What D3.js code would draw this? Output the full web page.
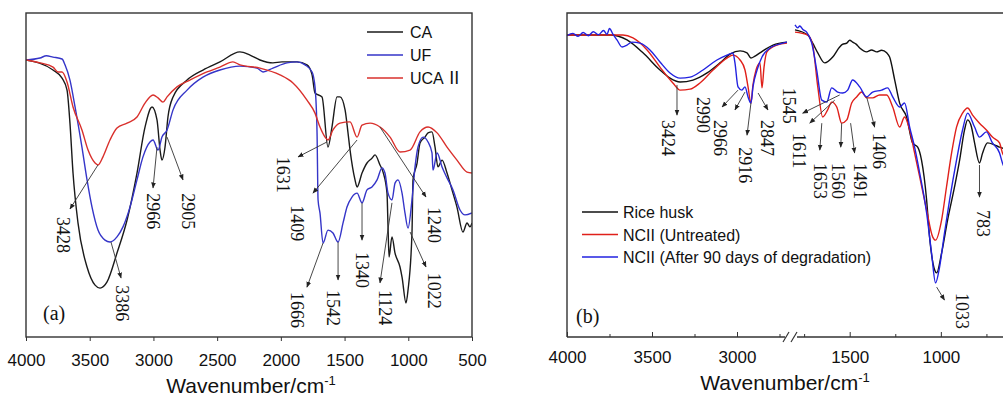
<!DOCTYPE html>
<html>
<head>
<meta charset="utf-8">
<script src="https://cdn.jsdelivr.net/npm/d3@7"></script>
<style>
  body { margin: 0; background: #fff; }
  svg { display: block; font-family: "Liberation Sans", Arial, sans-serif; }
  .tick text { font-size: 17px; fill: #111; }
  .peak { font-family: "Liberation Serif", "Times New Roman", serif; font-size: 18px; fill: #111; }
</style>
</head>
<body>
<svg id="chart" width="1003" height="397"></svg>
<script>
// ---- panel (a): wavenumber, transmittance (arb. %) ----
const caA = [[4000,85.5],[3788,82.4],[3717,79.9],[3678,76.2],[3655,66.0],[3631,50.6],[3592,35.2],[3521,21.6],[3458,16.0],[3419,15.1],[3364,17.0],[3286,25.9],[3207,36.1],[3129,50.6],[3066,64.8],[3011,71.0],[2972,67.0],[2948,57.7],[2933,54.6],[2909,58.6],[2886,67.9],[2846,74.1],[2736,79.3],[2611,82.4],[2478,84.9],[2321,88.0],[2242,87.0],[2164,85.5],[2062,84.6],[1991,84.9],[1873,84.9],[1795,84.0],[1755,80.9],[1732,75.3],[1677,74.1],[1630,58.6],[1599,64.8],[1559,74.1],[1536,74.1],[1496,70.1],[1473,63.0],[1457,57.7],[1418,48.5],[1402,46.3],[1363,50.6],[1324,53.7],[1285,55.2],[1261,56.2],[1222,53.1],[1198,50.9],[1167,44.4],[1159,34.0],[1151,24.7],[1128,30.9],[1104,25.9],[1065,21.6],[1049,18.5],[1018,10.5],[1002,14.5],[971,32.1],[963,48.5],[931,53.7],[908,59.9],[869,61.7],[845,63.0],[814,63.3],[790,58.6],[767,52.5],[735,54.6],[696,50.6],[657,45.4],[618,40.1],[571,32.4],[539,35.2],[516,34.0],[500,35.2]];
const ufA = [[4000,85.5],[3890,86.1],[3840,86.8],[3788,86.4],[3717,85.8],[3694,84.0],[3655,79.3],[3615,71.0],[3561,58.6],[3521,48.5],[3482,40.1],[3435,33.0],[3380,29.9],[3341,29.3],[3286,30.9],[3239,34.0],[3184,40.1],[3129,48.5],[3082,55.6],[3027,60.2],[3003,60.8],[2964,57.7],[2933,61.7],[2893,63.9],[2846,70.1],[2736,76.2],[2611,80.2],[2478,82.4],[2321,83.6],[2187,83.0],[2140,81.8],[2062,83.0],[1952,84.6],[1873,84.9],[1810,84.0],[1755,81.8],[1732,77.2],[1716,63.0],[1708,42.3],[1693,38.3],[1669,29.0],[1630,33.0],[1591,32.1],[1551,29.3],[1512,35.2],[1481,40.1],[1442,43.2],[1402,44.4],[1363,41.4],[1324,45.4],[1285,46.3],[1245,48.5],[1206,52.2],[1183,50.6],[1159,44.4],[1128,42.3],[1104,47.5],[1081,48.5],[1049,44.4],[1026,38.3],[1002,33.6],[971,42.3],[947,52.5],[924,58.6],[884,61.7],[845,60.2],[814,56.8],[806,51.5],[774,56.8],[735,52.5],[696,49.1],[649,45.4],[594,39.2],[555,37.7],[500,38.3]];
const ucaA = [[4000,85.5],[3890,84.6],[3788,83.3],[3749,81.8],[3717,81.8],[3678,78.7],[3631,71.0],[3561,63.9],[3513,57.7],[3458,53.7],[3435,53.1],[3396,55.6],[3341,60.8],[3286,64.5],[3207,66.0],[3129,67.9],[3066,72.2],[3003,74.7],[2964,73.8],[2925,72.5],[2893,74.1],[2815,77.2],[2713,79.3],[2580,81.8],[2478,83.3],[2376,84.9],[2321,84.0],[2164,83.0],[2007,80.9],[1905,78.4],[1795,73.1],[1732,69.1],[1693,64.8],[1653,61.7],[1630,60.8],[1591,63.9],[1536,66.0],[1457,66.4],[1402,61.7],[1363,65.4],[1300,66.0],[1222,64.8],[1143,61.7],[1065,57.1],[986,57.7],[908,63.3],[845,64.8],[774,63.0],[696,58.6],[618,54.6],[539,50.9],[500,50.6]];

const seriesA = [
  { name: 'CA', data: caA, color: '#1a1a1a' },
  { name: 'UF', data: ufA, color: '#3535c8' },
  { name: 'UCA', data: ucaA, color: '#d9302c' }
];
const ticksA = [4000, 3500, 3000, 2500, 2000, 1500, 1000, 500];

// peak labels: text, curve point, arrow end, label top
const peaksA = [
  { t: '3428', tip: [3435,53.1], tail: [3655,39.5], at: [3710,37.0] },
  { t: '3386', tip: [3333,29.3], tail: [3254,18.2], at: [3247,16.0] },
  { t: '2966', tip: [2972,58.6], tail: [3003,46.0], at: [3003,44.4] },
  { t: '2905', tip: [2893,61.7], tail: [2768,48.5], at: [2729,44.4] },
  { t: '1631', tip: [1638,60.2], tail: [1865,55.6], at: [1983,55.6] },
  { t: '1409', tip: [1402,60.8], tail: [1748,44.4], at: [1873,40.7] },
  { t: '1666', tip: [1669,29.0], tail: [1795,15.4], at: [1873,13.9] },
  { t: '1542', tip: [1551,29.3], tail: [1551,17.6], at: [1591,14.5] },
  { t: '1340', tip: [1363,41.4], tail: [1363,29.9], at: [1363,26.2] },
  { t: '1124', tip: [1128,41.4], tail: [1222,16.7], at: [1183,14.5] },
  { t: '1240', tip: [1222,64.8], tail: [861,43.2], at: [798,40.1] },
  { t: '1022', tip: [986,32.4], tail: [861,21.6], at: [798,19.8] }
];

// ---- panel (b): broken axis 4000-2700 | 1800-500 ----
const huskB1 = [[4000,93.2],[3747,93.2],[3647,91.7],[3553,87.7],[3453,82.4],[3394,79.9],[3335,78.7],[3259,79.3],[3176,81.5],[3100,84.6],[3041,87.3],[2982,88.3],[2941,87.7],[2918,86.1],[2894,86.7],[2865,87.7],[2788,90.1],[2706,91.0]];
const huskB2 = [[1800,94.8],[1730,93.2],[1703,90.7],[1675,87.7],[1637,84.6],[1593,86.4],[1555,89.5],[1540,90.3],[1516,90.7],[1500,91.6],[1484,91.0],[1465,90.4],[1445,89.2],[1407,88.0],[1380,88.6],[1352,88.0],[1325,88.5],[1297,87.7],[1281,86.4],[1253,79.3],[1226,72.2],[1188,67.9],[1155,59.9],[1127,58.6],[1106,54.6],[1078,42.3],[1062,30.9],[1034,20.7],[1023,19.8],[996,25.9],[963,36.1],[925,46.3],[897,54.6],[870,63.9],[853,67.0],[832,64.8],[815,59.9],[788,53.7],[771,56.8],[744,59.9],[706,59.3],[678,58.6],[640,58.0]];
const untreatedB1 = [[4000,93.2],[3747,93.2],[3671,93.2],[3612,92.3],[3529,88.6],[3453,83.3],[3377,78.4],[3335,76.2],[3276,76.5],[3218,78.4],[3141,82.4],[3059,86.1],[3024,87.0],[2982,85.5],[2953,82.4],[2935,77.2],[2918,72.2],[2906,77.8],[2888,82.4],[2865,84.6],[2853,76.9],[2841,83.3],[2824,88.0],[2765,90.1],[2706,90.7]];
const untreatedB2 = [[1800,94.1],[1730,93.2],[1703,90.1],[1675,77.2],[1648,67.9],[1621,70.1],[1599,72.5],[1571,71.0],[1544,66.0],[1516,67.0],[1489,72.2],[1462,74.1],[1434,75.6],[1407,73.8],[1374,73.8],[1336,74.7],[1297,74.7],[1264,71.0],[1226,64.8],[1199,67.9],[1171,63.9],[1144,56.8],[1116,49.4],[1078,39.2],[1045,30.9],[1029,29.9],[996,36.1],[969,46.3],[941,56.8],[914,64.8],[881,69.1],[853,70.7],[826,68.5],[788,66.0],[750,63.9],[717,61.7],[678,59.9],[662,56.8],[640,55.0]];
const degradedB1 = [[4000,93.0],[3965,93.7],[3935,92.8],[3905,94.0],[3875,93.0],[3845,94.2],[3815,93.3],[3785,94.6],[3765,93.4],[3750,95.2],[3730,93.5],[3706,91.7],[3676,89.5],[3647,90.1],[3618,91.0],[3571,90.7],[3512,88.6],[3453,84.9],[3394,81.5],[3335,79.9],[3276,80.2],[3200,82.4],[3118,85.5],[3059,87.0],[3024,87.7],[3012,84.6],[2994,77.2],[2971,76.2],[2953,77.2],[2935,74.1],[2918,72.2],[2906,77.2],[2882,82.4],[2853,86.4],[2806,89.2],[2729,90.7],[2706,91.0]];
const degradedB2 = [[1800,96.3],[1785,95.4],[1774,96.0],[1755,94.8],[1736,94.1],[1708,90.7],[1681,82.4],[1653,73.1],[1626,72.5],[1599,76.9],[1566,75.6],[1538,75.3],[1511,76.2],[1484,79.3],[1445,77.2],[1407,74.1],[1374,75.6],[1325,76.2],[1292,76.9],[1264,74.1],[1226,71.0],[1199,72.2],[1171,64.8],[1144,58.6],[1116,50.6],[1078,38.3],[1051,25.9],[1029,16.7],[1007,21.6],[980,32.1],[952,42.3],[914,54.6],[881,63.9],[853,69.1],[815,64.8],[788,61.7],[750,63.3],[717,59.9],[678,56.8],[662,53.7],[640,51.0]];

const seriesB = [
  { name: 'Rice husk', left: huskB1, right: huskB2, color: '#111111' },
  { name: 'NCII (Untreated)', left: untreatedB1, right: untreatedB2, color: '#e0201a' },
  { name: 'NCII (After 90 days of degradation)', left: degradedB1, right: degradedB2, color: '#2222e0' }
];
const ticksB1 = [4000, 3500, 3000];
const minorB1 = [3750, 3250, 2750];
const ticksB2 = [1500, 1000];
const minorB2 = [1750, 1250, 750];

const peaksB = [
  { t: '3424', tip: [3353,77.8], tail: [3353,68.5], at: [3406,67.0] },
  { t: '2990', tip: [2994,76.2], tail: [3088,71.0], at: [3200,74.1] },
  { t: '2966', tip: [2953,75.6], tail: [3012,70.1], at: [3100,67.0] },
  { t: '2916', tip: [2918,72.2], tail: [2941,62.3], at: [2953,58.6] },
  { t: '2847', tip: [2876,75.3], tail: [2818,70.1], at: [2824,67.0] },
  { t: '1545', tip: [1555,74.7], tail: [1758,69.1], at: [1829,76.9] },
  { t: '1611', tip: [1582,73.1], tail: [1719,66.0], at: [1779,63.0] },
  { t: '1653', tip: [1653,66.0], tail: [1664,57.7], at: [1659,53.7] },
  { t: '1560', tip: [1544,66.0], tail: [1549,58.6], at: [1560,53.7] },
  { t: '1491', tip: [1495,66.0], tail: [1473,56.8], at: [1440,53.7] },
  { t: '1406', tip: [1407,74.1], tail: [1363,64.8], at: [1336,63.0] },
  { t: '783',  tip: [788,53.1],  tail: [788,43.2],  at: [766,39.2] },
  { t: '1033', tip: [1023,15.4], tail: [980,11.4],  at: [881,13.6] }
];

const svg = d3.select('#chart');

svg.append('defs').append('marker')
  .attr('id', 'ah').attr('viewBox', '0 0 10 10')
  .attr('refX', 9).attr('refY', 5)
  .attr('markerUnits', 'userSpaceOnUse')
  .attr('markerWidth', 6).attr('markerHeight', 6)
  .attr('orient', 'auto')
  .append('path').attr('d', 'M0,1L10,5L0,9z').attr('fill', '#222');

const plotTop = 13, plotBottom = 337;

function drawPeaks(list, xOf, y) {
  const g = svg.append('g');
  list.forEach(function (p) {
    g.append('line')
      .attr('x1', xOf(p.tip[0])).attr('y1', y(p.tip[1]))
      .attr('x2', xOf(p.tail[0])).attr('y2', y(p.tail[1]))
      .attr('stroke', '#333').attr('stroke-width', 0.9)
      .attr('marker-end', 'url(#ah)');
    const x0 = xOf(p.at[0]), y0 = y(p.at[1]);
    g.append('text').attr('class', 'peak')
      .attr('transform', 'translate(' + [x0, y0] + ') rotate(90)')
      .attr('dy', '0.35em')
      .text(p.t);
  });
}

function title(cx, by) {
  const t = svg.append('text').attr('x', cx).attr('y', by)
    .attr('text-anchor', 'middle').attr('font-size', 21).attr('fill', '#111');
  t.append('tspan').text('Wavenumber/cm');
  t.append('tspan').attr('dy', -8).attr('font-size', 13).text('-1');
}

// ======= panel (a) =======
const xA = d3.scaleLinear().domain([4000, 500]).range([26, 472]);
const yA = d3.scaleLinear().domain([0, 100]).range([plotBottom, plotTop]);

svg.append('defs').append('clipPath').attr('id', 'clipA')
  .append('rect').attr('x', 26).attr('y', plotTop).attr('width', 446).attr('height', plotBottom - plotTop);

const lineA = d3.line().x(d => xA(d[0])).y(d => yA(d[1])).curve(d3.curveMonotoneX);

svg.append('g').attr('clip-path', 'url(#clipA)')
  .selectAll('path').data(seriesA).join('path')
  .attr('d', d => lineA(d.data))
  .attr('fill', 'none').attr('stroke', d => d.color).attr('stroke-width', 1.4);

svg.append('rect').attr('x', 26).attr('y', plotTop).attr('width', 446).attr('height', plotBottom - plotTop)
  .attr('fill', 'none').attr('stroke', '#333').attr('stroke-width', 1.4);

const axA = svg.append('g').attr('transform', 'translate(0,' + plotBottom + ')')
  .call(d3.axisBottom(xA).tickValues(ticksA).tickSize(4).tickPadding(13).tickFormat(d3.format('d')));
axA.select('.domain').remove();
axA.selectAll('line').attr('stroke', '#333');

drawPeaks(peaksA, xA, yA);

// legend (a)
const legA = svg.append('g').attr('transform', 'translate(367,32)');
seriesA.forEach(function (s, i) {
  const r = legA.append('g').attr('transform', 'translate(0,' + i * 23 + ')');
  r.append('line').attr('x1', 0).attr('x2', 36).attr('stroke', s.color).attr('stroke-width', 1.4);
  const t = r.append('text').attr('x', 43).attr('y', 6).attr('font-size', 16).attr('fill', '#111').text(s.name);
  if (s.name === 'UCA') {
    t.append('tspan').attr('dx', 2).attr('font-family', '"Noto Sans CJK SC", "DejaVu Serif", serif')
      .attr('font-size', 17).text('\u2161');
  }
});

svg.append('text').attr('x', 43).attr('y', 320)
  .attr('font-family', '"Liberation Serif", serif').attr('font-size', 20).attr('fill', '#111').text('(a)');
title(251, 393);

// ======= panel (b) =======
const xB1 = d3.scaleLinear().domain([4000, 2700]).range([567, 788]);
const xB2 = d3.scaleLinear().domain([1800, 500]).range([795, 1032]);
const yB = d3.scaleLinear().domain([0, 100]).range([plotBottom, plotTop]);

const lineB1 = d3.line().x(d => xB1(d[0])).y(d => yB(d[1])).curve(d3.curveMonotoneX);
const lineB2 = d3.line().x(d => xB2(d[0])).y(d => yB(d[1])).curve(d3.curveMonotoneX);

const gB = svg.append('g');
seriesB.forEach(function (s) {
  gB.append('path').attr('d', lineB1(s.left)).attr('fill', 'none').attr('stroke', s.color).attr('stroke-width', 1.4);
  gB.append('path').attr('d', lineB2(s.right)).attr('fill', 'none').attr('stroke', s.color).attr('stroke-width', 1.4);
});

// frame: left, top, broken bottom
svg.append('path')
  .attr('d', 'M567,' + plotBottom + 'V' + plotTop + 'H1003')
  .attr('fill', 'none').attr('stroke', '#333').attr('stroke-width', 1.4);
svg.append('line').attr('x1', 567).attr('x2', xB1(2700) - 3).attr('y1', plotBottom).attr('y2', plotBottom)
  .attr('stroke', '#333').attr('stroke-width', 1.4);
svg.append('line').attr('x1', xB2(1800) + 2).attr('x2', 1003).attr('y1', plotBottom).attr('y2', plotBottom)
  .attr('stroke', '#333').attr('stroke-width', 1.4);
[xB1(2700) - 3, xB2(1800) - 2].forEach(function (bx) {
  svg.append('line').attr('x1', bx - 2).attr('y1', plotBottom + 5).attr('x2', bx + 4).attr('y2', plotBottom - 5)
    .attr('stroke', '#333').attr('stroke-width', 1.2);
});

function axisB(scale, major, minor) {
  const g1 = svg.append('g').attr('transform', 'translate(0,' + plotBottom + ')')
    .call(d3.axisBottom(scale).tickValues(major).tickSizeInner(-5).tickSizeOuter(0).tickPadding(14).tickFormat(d3.format('d')));
  g1.select('.domain').remove();
  g1.selectAll('line').attr('stroke', '#333');
  const g2 = svg.append('g').attr('transform', 'translate(0,' + plotBottom + ')')
    .call(d3.axisBottom(scale).tickValues(minor).tickSizeInner(-3).tickSizeOuter(0).tickFormat(''));
  g2.select('.domain').remove();
  g2.selectAll('line').attr('stroke', '#333');
}
axisB(xB1, ticksB1, minorB1);
axisB(xB2, ticksB2, minorB2);

drawPeaks(peaksB, w => (w > 2200 ? xB1(w) : xB2(w)), yB);

// legend (b)
const legB = svg.append('g').attr('transform', 'translate(582,212)');
seriesB.forEach(function (s, i) {
  const r = legB.append('g').attr('transform', 'translate(0,' + i * 22.5 + ')');
  r.append('line').attr('x1', 0).attr('x2', 36).attr('stroke', s.color).attr('stroke-width', 1.4);
  r.append('text').attr('x', 41).attr('y', 6).attr('font-size', 16).attr('fill', '#111').text(s.name);
});

svg.append('text').attr('x', 576).attr('y', 323)
  .attr('font-family', '"Liberation Serif", serif').attr('font-size', 20).attr('fill', '#111').text('(b)');
title(785, 390);
</script>
</body>
</html>
